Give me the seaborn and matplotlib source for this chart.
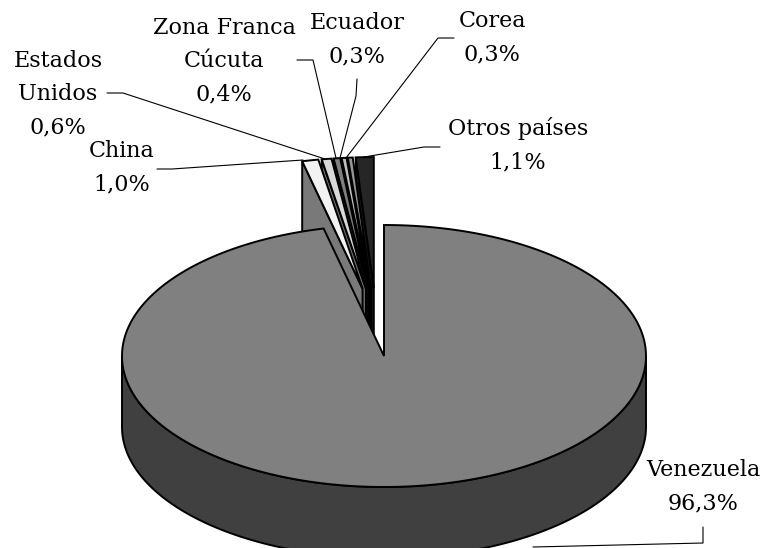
import numpy as np
import matplotlib
matplotlib.use("Agg")
import matplotlib.pyplot as plt
import seaborn as sns

# shares in %, clockwise from 12 o'clock
countries = ["Venezuela", "China", "Estados\nUnidos", "Zona Franca\nCúcuta", "Ecuador", "Corea", "Otros países"]
shares = [96.3, 1.0, 0.6, 0.4, 0.3, 0.3, 1.1]
top_colors = ["#808080", "#f2f2f2", "#d9d9d9", "#808080", "#bfbfbf", "#969696", "#262626"]
side_colors = ["#404040", "#797979", "#6c6c6c", "#404040", "#5f5f5f", "#4b4b4b", "#131313"]

# layout, in pixels of the picture
label_xy = [(703, 487), (122, 168), (58, 94), (224, 61), (357, 40), (492, 38), (518, 145)]
leaders = [
	[(703, 527), (703, 543), (533, 547)],
	[(157, 169), (172, 169), (303, 160)],
	[(107, 93), (123, 93), (325, 159)],
	[(297, 60), (313, 60), (336, 158)],
	[(357, 79), (356, 96), (340, 158)],
	[(454, 38), (438, 38), (346, 158)],
	[(440, 147), (424, 147), (364, 157)],
]
cx, cy = 384, 356
rx, ry = 262, 131
depth = 71
explode = 0.52
font_size = 16

sns.set_theme(style="white")
plt.rcParams["font.family"] = ["DejaVu Serif"]

fig = plt.figure(figsize=(7.66, 5.48), dpi=100)
ax = plt.axes([0, 0, 1, 1])
ax.set_xlim(0, 766)
ax.set_ylim(548, 0)
ax.axis("off")


def rim(x0, y0, angles):
	return x0 + rx * np.sin(angles), y0 - ry * np.cos(angles)


edges = np.cumsum([0] + shares) / sum(shares) * 2 * np.pi

# small slices, back to front, so the right one goes first
for i in range(len(shares) - 1, 0, -1):
	a0, a1 = edges[i], edges[i + 1]
	mid = np.degrees((a0 + a1) / 2 - 2 * np.pi)
	direction = np.radians(0.5 * mid - 3.3)
	x0 = cx + rx * explode * np.sin(direction)
	y0 = cy - ry * explode * np.cos(direction)
	rx0, ry0 = rim(x0, y0, a0)
	# left cut face
	ax.fill([x0, rx0, rx0, x0], [y0, ry0, ry0 + depth, y0 + depth], fc=side_colors[i], ec="black", lw=1.4, zorder=2)
	arc = np.linspace(a0, a1, 12)
	ax_, ay_ = rim(x0, y0, arc)
	ax.fill(np.r_[x0, ax_], np.r_[y0, ay_], fc=top_colors[i], ec="black", lw=1.4, joinstyle="miter", zorder=2)

# big slice: wall of the front half, then the top
front = np.linspace(np.pi / 2, 3 * np.pi / 2, 200)
fx, fy = rim(cx, cy, front)
ax.fill(np.r_[fx, fx[::-1]], np.r_[fy, fy[::-1] + depth], fc=side_colors[0], ec="black", lw=1.4, zorder=3)
arc = np.linspace(edges[0], edges[1], 400)
tx, ty = rim(cx, cy, arc)
ax.fill(np.r_[cx, tx], np.r_[cy, ty], fc=top_colors[0], ec="black", lw=1.4, joinstyle="miter", zorder=3)

for name, value, (lx, ly), leader in zip(countries, shares, label_xy, leaders):
	text = name + "\n" + f"{value:.1f}".replace(".", ",") + "%"
	ax.text(lx, ly, text, ha="center", va="center", fontsize=font_size, color="black", linespacing=1.67, zorder=5)
	xs, ys = zip(*leader)
	ax.plot(xs, ys, color="black", lw=0.8, zorder=5)

plt.savefig("out.png", dpi=100)
